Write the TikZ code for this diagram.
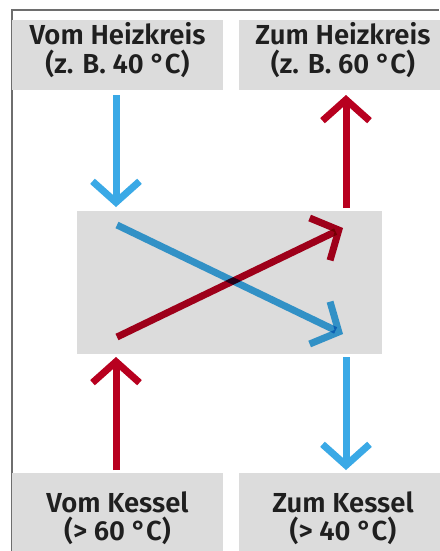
\documentclass[tikz,border=0pt]{standalone}
\usepackage{fontspec}
\setmainfont{Fira Sans}[BoldFont={Fira Sans SemiBold}]
\usetikzlibrary{arrows.meta}
\definecolor{boxgray}{HTML}{DCDCDC}
\definecolor{framegray}{HTML}{6E6E6E}
\definecolor{flowblue}{HTML}{3AA9E6}
\definecolor{flowred}{HTML}{B8001F}
\tikzset{
  labelbox/.style={fill=boxgray, minimum width=211pt, minimum height=#1, inner sep=0pt},
  labeltext/.style={inner sep=0pt, align=center,
    font=\fontsize{27.5}{28.5}\selectfont\bfseries, text=black!88},
  flow/.style={line width=7pt, -{Straight Barb[length=21pt, width=47pt, line width=7pt]}},
  hotflow/.style={flow, draw=flowred},
  coldflow/.style={flow, draw=flowblue},
}
\begin{document}
\begin{tikzpicture}[x=1pt, y=-1pt]
\useasboundingbox (0,0) rectangle (439,551);
\fill[white] (0,0) rectangle (439,551);
% frame
\draw[framegray, line width=1.5pt] (12,551) -- (12,10) -- (439,10);
% label boxes
\node[labelbox=70pt] (vh) at (117.5,55) {};
\node[labelbox=70pt, minimum width=208pt] (zh) at (343,55) {};
\node[labelbox=90pt] (vk) at (117.5,518) {};
\node[labelbox=90pt, minimum width=208pt] (zk) at (343,518) {};
\node[labeltext] (vht1) at (117.5,50) {Vom Heizkreis\\(z. B. 40 °C)};
\node[labeltext] (zht1) at (343,50) {Zum Heizkreis\\(z. B. 60 °C)};
\node[labeltext] (vkt1) at (117.5,518) {Vom Kessel\\(> 60 °C)};
\node[labeltext] (zkt1) at (343,518) {Zum Kessel\\(> 40 °C)};
% heat exchanger
\node[fill=boxgray, minimum width=305pt, minimum height=143pt, inner sep=0pt] (hx) at (229.5,282.5) {};
% coordinates
\coordinate (vhs) at (116,95);
\coordinate (vht) at (116,207);
\coordinate (zhs) at (346,208);
\coordinate (zht) at (346,95);
\coordinate (vks) at (116,470);
\coordinate (vkt) at (116,357);
\coordinate (zks) at (346,357);
\coordinate (zkt) at (346,470);
\coordinate (bs) at (117,225);
\coordinate (bt) at (343,334);
\coordinate (rs) at (117,337);
\coordinate (rt) at (343,228);
% flows
\draw[coldflow] (vhs) -- (vht);
\draw[hotflow] (zhs) -- (zht);
\draw[hotflow] (vks) -- (vkt);
\draw[coldflow] (zks) -- (zkt);
\begin{scope}[blend mode=multiply]
\draw[coldflow] (bs) -- (bt);
\draw[hotflow] (rs) -- (rt);
\end{scope}
\end{tikzpicture}
\end{document}
